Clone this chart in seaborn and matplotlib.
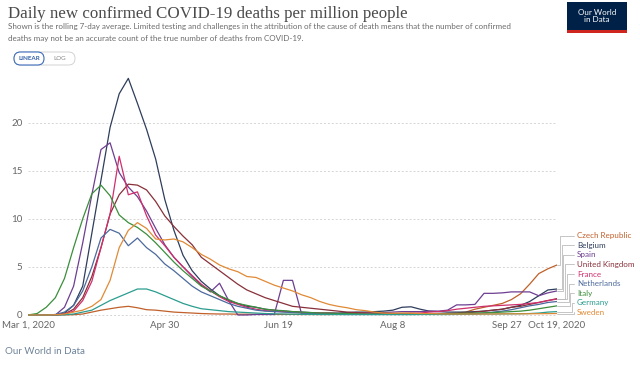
import pandas as pd
import seaborn as sns
import matplotlib.pyplot as plt
import matplotlib.transforms as mtransforms
from matplotlib.patches import FancyBboxPatch, Rectangle
import numpy as np

# sample dates, every 4 days from Mar 1 to Oct 19 2020
dates = pd.date_range("2020-03-01", "2020-10-19", freq="4D")

czech = [0, 0, 0, 0, 0.01, 0.03, 0.1, 0.3, 0.5, 0.65, 0.8, 0.9, 0.75, 0.55, 0.5, 0.4,
         0.3, 0.25, 0.2, 0.15, 0.12, 0.1, 0.1, 0.08, 0.08, 0.07, 0.07, 0.06, 0.06, 0.06,
         0.05, 0.05, 0.05, 0.05, 0.06, 0.06, 0.07, 0.08, 0.08, 0.1, 0.12, 0.15, 0.2, 0.15,
         0.1, 0.1, 0.15, 0.2, 0.3, 0.6, 0.8, 1.0, 1.2, 1.6, 2.2, 3.2, 4.3, 4.8, 5.2]
belgium = [0, 0, 0, 0, 0.2, 1.0, 3.0, 8.5, 14, 19.5, 23, 24.6, 22, 19.3, 16.2, 12,
           8.8, 6.2, 4.6, 3.5, 2.7, 2.0, 1.5, 1.2, 0.9, 0.8, 0.6, 0.5, 0.4, 0.35,
           0.3, 0.25, 0.2, 0.2, 0.2, 0.25, 0.3, 0.3, 0.35, 0.4, 0.5, 0.8, 0.85, 0.6,
           0.4, 0.35, 0.3, 0.3, 0.3, 0.35, 0.4, 0.5, 0.6, 0.8, 1.0, 1.4, 2.0, 2.6, 2.7]
spain = [0, 0, 0, 0, 0.8, 3.0, 7.5, 12.5, 17.2, 17.9, 14.8, 13.3, 12.3, 10.8, 9.0, 7.3,
         6.0, 5.0, 4.0, 3.1, 2.4, 3.3, 1.5, 0.0, 0.0, 0.05, 0.05, 0.05, 3.6, 3.6,
         0.1, 0.1, 0.1, 0.1, 0.1, 0.1, 0.15, 0.2, 0.2, 0.25, 0.3, 0.35, 0.35, 0.35,
         0.4, 0.4, 0.5, 1.05, 1.05, 1.1, 2.25, 2.25, 2.3, 2.4, 2.4, 2.4, 2.0, 2.3, 2.5]
uk = [0, 0, 0, 0, 0.1, 0.6, 1.8, 4.0, 7.0, 10.5, 12.5, 13.6, 13.5, 13.0, 11.8, 10.3,
      9.2, 8.2, 7.3, 6.0, 5.3, 4.6, 3.9, 3.2, 2.6, 2.2, 1.8, 1.5, 1.2, 0.9,
      0.8, 0.7, 0.6, 0.5, 0.4, 0.3, 0.25, 0.2, 0.2, 0.15, 0.12, 0.1, 0.1, 0.1,
      0.1, 0.1, 0.12, 0.15, 0.2, 0.3, 0.4, 0.5, 0.6, 0.8, 0.9, 1.1, 1.3, 1.5, 1.7]
france = [0, 0, 0, 0, 0.1, 0.4, 1.5, 3.5, 7.0, 10.5, 16.5, 12.5, 12.8, 10.3, 8.3, 7.2,
          6.0, 5.0, 4.1, 3.2, 2.5, 1.9, 1.4, 1.1, 0.8, 0.6, 0.45, 0.4, 0.35, 0.3,
          0.25, 0.2, 0.2, 0.2, 0.15, 0.15, 0.15, 0.15, 0.15, 0.15, 0.15, 0.15, 0.15, 0.2,
          0.3, 0.35, 0.45, 0.6, 0.7, 0.8, 0.9, 0.95, 1.0, 1.05, 1.1, 1.2, 1.3, 1.5, 1.65]
netherlands = [0, 0, 0, 0.05, 0.3, 1.0, 2.5, 5.0, 8.0, 8.9, 8.5, 7.2, 8.0, 7.0, 6.3, 5.3,
               4.6, 3.8, 3.0, 2.4, 2.0, 1.6, 1.2, 0.9, 0.7, 0.5, 0.4, 0.35, 0.3, 0.25,
               0.2, 0.15, 0.1, 0.08, 0.06, 0.05, 0.05, 0.05, 0.05, 0.05, 0.05, 0.05, 0.05, 0.06,
               0.07, 0.08, 0.1, 0.12, 0.13, 0.15, 0.2, 0.3, 0.4, 0.55, 0.75, 0.95, 1.1, 1.3, 1.4]
italy = [0, 0.15, 0.8, 1.8, 3.8, 7.0, 10.0, 12.6, 13.5, 12.4, 10.4, 9.6, 9.1, 8.4, 7.5, 6.5,
         5.5, 4.6, 3.8, 3.0, 2.5, 2.0, 1.6, 1.2, 1.0, 0.8, 0.6, 0.5, 0.45, 0.35,
         0.3, 0.25, 0.2, 0.2, 0.15, 0.15, 0.12, 0.1, 0.1, 0.1, 0.1, 0.1, 0.1, 0.1,
         0.1, 0.1, 0.12, 0.15, 0.18, 0.2, 0.22, 0.25, 0.3, 0.35, 0.4, 0.5, 0.65, 0.8, 0.95]
germany = [0, 0, 0, 0, 0.02, 0.1, 0.3, 0.5, 1.0, 1.5, 1.9, 2.3, 2.7, 2.7, 2.4, 2.0,
           1.6, 1.2, 0.9, 0.65, 0.55, 0.45, 0.35, 0.3, 0.25, 0.2, 0.15, 0.12, 0.1, 0.08,
           0.07, 0.06, 0.05, 0.05, 0.05, 0.05, 0.05, 0.05, 0.05, 0.05, 0.05, 0.05, 0.05, 0.05,
           0.05, 0.05, 0.05, 0.06, 0.07, 0.08, 0.1, 0.1, 0.11, 0.12, 0.13, 0.15, 0.2, 0.3, 0.35]
sweden = [0, 0, 0, 0.02, 0.1, 0.3, 0.5, 0.9, 1.6, 3.6, 7.0, 8.8, 9.6, 9.0, 7.9, 7.8,
          7.9, 7.6, 7.0, 6.3, 5.8, 5.2, 4.8, 4.5, 4.0, 3.9, 3.5, 3.1, 2.8, 2.5,
          2.1, 1.8, 1.4, 1.1, 0.9, 0.75, 0.55, 0.45, 0.3, 0.2, 0.18, 0.2, 0.18, 0.15,
          0.15, 0.12, 0.1, 0.1, 0.1, 0.1, 0.1, 0.1, 0.12, 0.12, 0.12, 0.13, 0.13, 0.14, 0.15]

countries = ["Czech Republic", "Belgium", "Spain", "United Kingdom", "France",
             "Netherlands", "Italy", "Germany", "Sweden"]
values = [czech, belgium, spain, uk, france, netherlands, italy, germany, sweden]
colors = ["#C0602A", "#2E3D5C", "#6D3E91", "#883039", "#CF2F6C",
          "#4C6A9C", "#3B8E3B", "#2A9D8F", "#E08A36"]

tick_dates = ["2020-03-01", "2020-04-30", "2020-06-19", "2020-08-08", "2020-09-27", "2020-10-19"]
tick_labels = ["Mar 1, 2020", "Apr 30", "Jun 19", "Aug 8", "Sep 27", "Oct 19, 2020"]

title = "Daily new confirmed COVID-19 deaths per million people"
subtitle = ["Shown is the rolling 7-day average. Limited testing and challenges in the attribution of the cause of death means that the number of confirmed",
            "deaths may not be an accurate count of the true number of deaths from COVID-19."]

df = pd.DataFrame({
    "date": np.tile(dates, len(countries)),
    "country": np.repeat(countries, len(dates)),
    "deaths": np.concatenate(values),
})

sns.set_style("white")
plt.rcParams["font.family"] = ["Lato", "DejaVu Sans"]

W, H = 640, 368
fig = plt.figure(figsize=(6.4, 3.68), dpi=100)
x0, x1 = 28, 557            # plot area in px
ax = fig.add_axes([x0 / W, 1 - 316.9 / H, (x1 - x0) / W, (316.9 - 72.6) / H])

sns.lineplot(data=df, x="date", y="deaths", hue="country", hue_order=countries,
             palette=dict(zip(countries, colors)), legend=False, linewidth=0.9, ax=ax)

ax.set_xlim(pd.Timestamp("2020-03-01"), pd.Timestamp("2020-10-19"))
ax.set_ylim(-0.2, 25.2)
ax.set_yticks([0, 5, 10, 15, 20])
ax.set_xticks(pd.to_datetime(tick_dates))
ax.set_xticklabels(tick_labels)
ax.yaxis.grid(True, color="#d5d5d5", linestyle=(0, (2, 2)), linewidth=0.7)
ax.xaxis.grid(False)
for s in ax.spines.values():
    s.set_visible(False)
ax.tick_params(axis="both", length=0, labelsize=7, labelcolor="#666666")
ax.tick_params(axis="y", pad=4)
ax.tick_params(axis="x", pad=3)
ax.set_xlabel("")
ax.set_ylabel("")

# end labels with elbow connectors
trans = mtransforms.blended_transform_factory(ax.transAxes, ax.transData)
def px(p):
    return (p - x0) / (x1 - x0)

gap = 0.99
ends = [v[-1] for v in values]
label_y = [0] * len(countries)
prev = None
for i in range(len(countries) - 1, -1, -1):
    y = max(ends[i], 0.3) if prev is None else max(ends[i], prev + gap)
    label_y[i] = y
    prev = y
for k, (name, col) in enumerate(zip(countries, colors)):
    xv = px(560 + 1.7 * k)
    ax.plot([1.0, xv, xv, px(574)], [ends[k], ends[k], label_y[k], label_y[k]],
            color="#bbbbbb", linewidth=0.6, transform=trans, clip_on=False)
    ax.text(px(577), label_y[k], name, transform=trans, fontsize=5.8, color=col,
            va="center", ha="left", clip_on=False)

# header
fig.text(8 / W, 1 - 14 / H, title, fontsize=12.2, color="#4a4a4a",
         family=["Liberation Serif", "DejaVu Serif"], va="center", ha="left")
for j, line in enumerate(subtitle):
    fig.text(8 / W, 1 - (27 + 11.5 * j) / H, line, fontsize=5.75, color="#6b6b6b",
             va="center", ha="left")

# LINEAR / LOG toggle
inch = fig.dpi_scale_trans
fig.patches.append(FancyBboxPatch((0.14, (H - 65) / 100), 0.61, 0.13,
                                  boxstyle="round,pad=0,rounding_size=0.065",
                                  facecolor="white", edgecolor="#cccccc", linewidth=0.6,
                                  transform=inch, figure=fig))
fig.patches.append(FancyBboxPatch((0.14, (H - 65) / 100), 0.30, 0.13,
                                  boxstyle="round,pad=0,rounding_size=0.065",
                                  facecolor="white", edgecolor="#3d6cb9", linewidth=0.8,
                                  transform=inch, figure=fig))
fig.text(0.29 / 6.4, 1 - 58 / H, "LINEAR", fontsize=4.5, color="#3360a9",
         ha="center", va="center", weight="bold")
fig.text(0.60 / 6.4, 1 - 58 / H, "LOG", fontsize=4.5, color="#888888",
         ha="center", va="center")

# logo
fig.patches.append(Rectangle((567 / W, 1 - 33 / H), 60 / W, 31 / H, facecolor="#002147",
                             edgecolor="none", transform=fig.transFigure, figure=fig))
fig.patches.append(Rectangle((567 / W, 1 - 33 / H), 60 / W, 3 / H, facecolor="#ce261e",
                             edgecolor="none", transform=fig.transFigure, figure=fig))
fig.text(597 / W, 1 - 16 / H, "Our World\nin Data", fontsize=5.8, color="white",
         ha="center", va="center", linespacing=1.1)

# footer
fig.text(5 / W, 1 - 352 / H, "Our World in Data", fontsize=7, color="#6e8299",
         ha="left", va="center")

fig.savefig("out.png", dpi=100)
